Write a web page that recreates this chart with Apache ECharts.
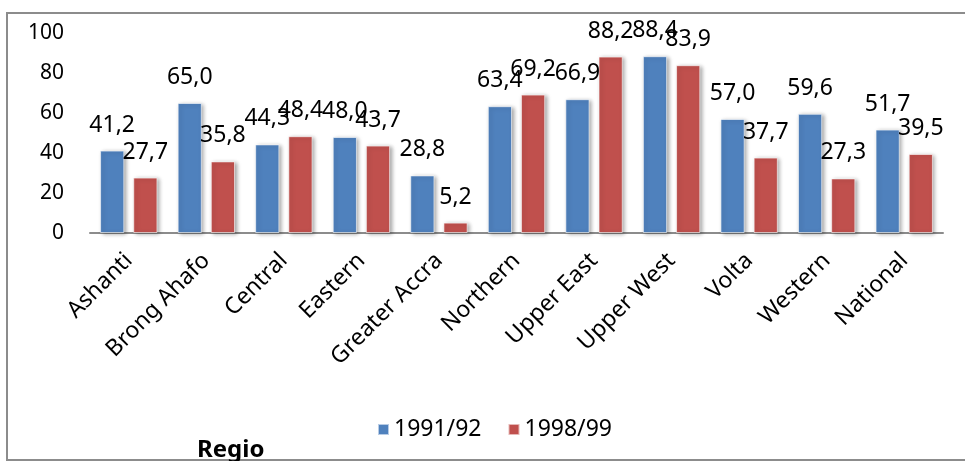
<!DOCTYPE html>
<html>
<head>
<meta charset="utf-8">
<script src="https://cdn.jsdelivr.net/npm/echarts@6/dist/echarts.min.js"></script>
<style>
  html, body { margin: 0; padding: 0; background: #fff; }
  #chart { width: 965px; height: 461px; }
</style>
</head>
<body>
<div id="chart"></div>
<script>
const regions = ['Ashanti', 'Brong Ahafo', 'Central', 'Eastern', 'Greater Accra', 'Northern',
  'Upper East', 'Upper West', 'Volta', 'Western', 'National'];
const values9192 = [41.2, 65.0, 44.3, 48.0, 28.8, 63.4, 66.9, 88.4, 57.0, 59.6, 51.7];
const values9899 = [27.7, 35.8, 48.4, 43.7, 5.2, 69.2, 88.2, 83.9, 37.7, 27.3, 39.5];
const seriesNames = ['1991/92', '1998/99'];
const yTicks = [0, 20, 40, 60, 80, 100];

const font = 'Noto Sans';
const chart = echarts.init(document.getElementById('chart'));

// ombre portée façon Excel
const barStyle = (color) => ({
  color: color,
  borderColor: 'rgba(255,255,255,0.6)',
  borderWidth: 1,
  shadowColor: 'rgba(0,0,0,0.35)',
  shadowBlur: 4,
  shadowOffsetX: 2,
  shadowOffsetY: 1
});

const label = {
  show: true,
  position: 'top',
  distance: 14,
  fontFamily: font,
  fontSize: 23,
  color: '#000',
  formatter: (p) => p.value.toFixed(1).replace('.', ',')
};

chart.setOption({
  animation: false,
  textStyle: { fontFamily: font },
  grid: { left: 90, right: 22, top: 33, bottom: 228 },
  legend: {
    data: seriesNames,
    left: 372,
    top: 413,
    itemWidth: 11,
    itemHeight: 11,
    itemGap: 26,
    icon: 'rect',
    textStyle: { fontFamily: font, fontSize: 23, color: '#000' }
  },
  xAxis: {
    type: 'category',
    data: regions,
    axisLine: { lineStyle: { color: '#8c8c8c', width: 2 } },
    axisTick: { show: false },
    axisLabel: {
      rotate: 45,
      margin: 24,
      interval: 0,
      fontFamily: font,
      fontSize: 23,
      color: '#000'
    }
  },
  yAxis: {
    type: 'value',
    min: yTicks[0],
    max: yTicks[yTicks.length - 1],
    interval: 20,
    axisLine: { show: false },
    axisTick: { show: false },
    splitLine: { show: false },
    axisLabel: { fontFamily: font, fontSize: 21, color: '#000', margin: 26 }
  },
  graphic: [
    {
      type: 'rect',
      shape: { x: 7, y: 13, width: 970, height: 447 },
      style: { fill: 'none', stroke: '#8c8c8c', lineWidth: 2 },
      z: -1
    },
    {
      type: 'text',
      left: 197,
      top: 438,
      style: { text: 'Regio', fontFamily: font, fontSize: 24, fontWeight: 'bold', fill: '#000' }
    }
  ],
  series: [
    {
      name: seriesNames[0],
      type: 'bar',
      data: values9192,
      barGap: '37%',
      barCategoryGap: '26%',
      itemStyle: barStyle('#4f81bd'),
      label: label
    },
    {
      name: seriesNames[1],
      type: 'bar',
      data: values9899,
      itemStyle: barStyle('#c0504d'),
      label: label
    }
  ]
});
</script>
</body>
</html>
